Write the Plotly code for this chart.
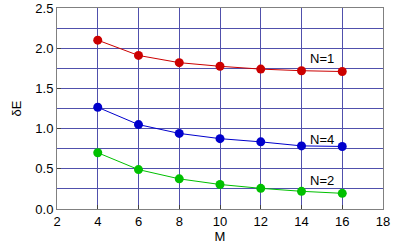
import plotly.graph_objects as go

M = [4, 6, 8, 10, 12, 14, 16]
dE_N1 = [2.10, 1.91, 1.82, 1.775, 1.74, 1.72, 1.71]
dE_N4 = [1.265, 1.05, 0.94, 0.875, 0.835, 0.785, 0.778]
dE_N2 = [0.70, 0.49, 0.375, 0.305, 0.257, 0.22, 0.195]

series = [("N=1", dE_N1, "#cc0000"), ("N=4", dE_N4, "#0000cc"), ("N=2", dE_N2, "#00c000")]
label_pos = {"N=1": (15.0, 1.87), "N=4": (15.0, 0.87), "N=2": (15.0, 0.36)}

fig = go.Figure()
for name, vals, col in series:
    fig.add_trace(go.Scatter(x=M, y=vals, mode="lines+markers", name=name,
                             line=dict(color=col, width=1),
                             marker=dict(color=col, size=9), cliponaxis=False))
    lx, ly = label_pos[name]
    fig.add_annotation(x=lx, y=ly, text=name, showarrow=False,
                       font=dict(size=13, color="#000000"))

axis_common = dict(showline=True, linecolor="#808080", linewidth=1, mirror=True,
                   gridcolor="#5050ac", gridwidth=1, zeroline=False, automargin=False,
                   ticks="inside", tickcolor="#404040", ticklen=4,
                   tickfont=dict(size=13, color="#000000"))
fig.update_xaxes(range=[2, 18], dtick=2, title=dict(text="M", standoff=0, font=dict(size=13)), **axis_common)
fig.update_yaxes(range=[0, 2.5], dtick=0.5, tickformat=".1f",
                 minor=dict(dtick=0.25, showgrid=True, gridcolor="#5050ac", gridwidth=1),
                 title=dict(text="δE", standoff=10, font=dict(size=13)), **axis_common)
fig.update_layout(width=400, height=247, margin=dict(l=57, r=17, t=8, b=38, autoexpand=False),
                  showlegend=False, plot_bgcolor="white", paper_bgcolor="white",
                  font=dict(family="Liberation Sans, Arial, sans-serif", size=13, color="#000000"))
fig.write_html("out.html", config={"displayModeBar": False},
               post_script="document.body.style.margin='0';")
